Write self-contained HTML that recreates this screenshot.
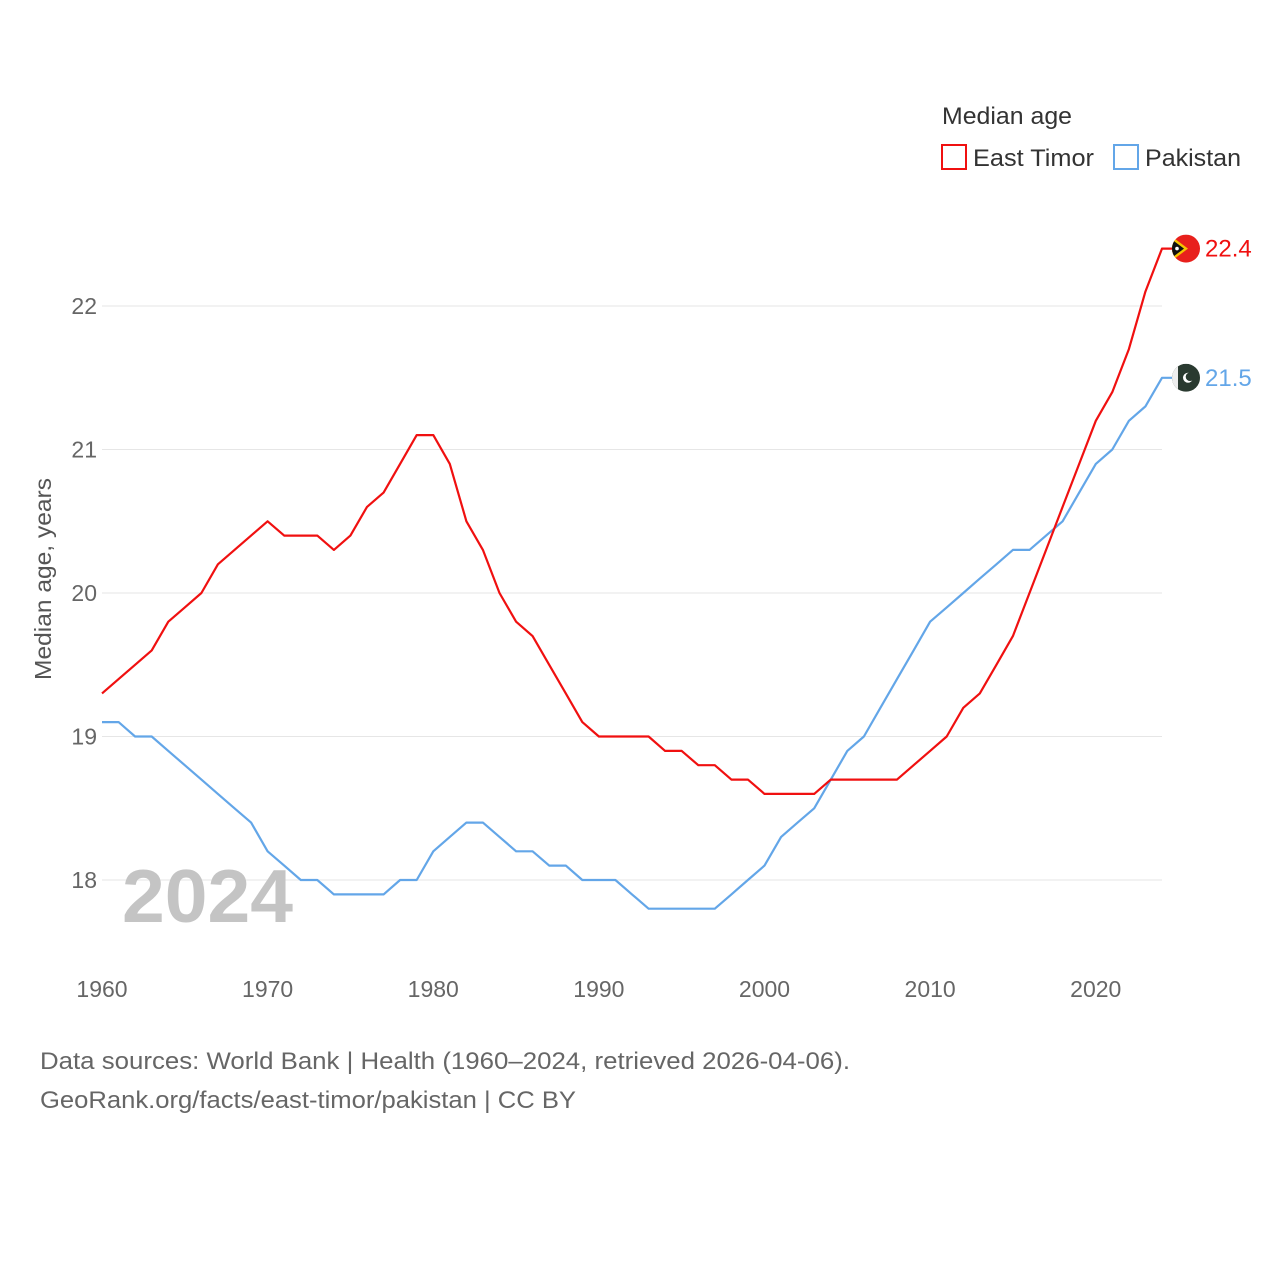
<!DOCTYPE html>
<html><head><meta charset="utf-8"><style>
body{margin:0;background:#fff;font-family:"Liberation Sans",sans-serif;}
</style></head><body>
<svg id="chart" width="1280" height="1280" xmlns="http://www.w3.org/2000/svg" font-family="Liberation Sans, sans-serif">
<defs>
<clipPath id="clipET"><circle id="cET" cx="1186" cy="0" r="14"/></clipPath>
<clipPath id="clipPK"><circle id="cPK" cx="1186" cy="0" r="14"/></clipPath>
</defs>
<g id="grid"></g>
<g id="yticks"></g>
<g id="xticks"></g>
<text transform="translate(51,579) rotate(-90)" text-anchor="middle" font-size="23" fill="#555" textLength="202" lengthAdjust="spacingAndGlyphs">Median age, years</text>
<text x="122" y="922" font-size="75" font-weight="bold" fill="#c4c4c4" textLength="171" lengthAdjust="spacingAndGlyphs">2024</text>
<g id="series"></g>
<g>
<text x="942" y="124" font-size="24" fill="#333" textLength="130" lengthAdjust="spacingAndGlyphs">Median age</text>
<rect x="942" y="145" width="24" height="24" fill="none" stroke="#f01010" stroke-width="2"/>
<text x="973" y="166" font-size="24" fill="#333" textLength="121" lengthAdjust="spacingAndGlyphs">East Timor</text>
<rect x="1114" y="145" width="24" height="24" fill="none" stroke="#63a6e8" stroke-width="2"/>
<text x="1145" y="166" font-size="24" fill="#333" textLength="96" lengthAdjust="spacingAndGlyphs">Pakistan</text>
</g>
<text x="40" y="1069" font-size="24" fill="#666" textLength="810" lengthAdjust="spacingAndGlyphs">Data sources: World Bank | Health (1960–2024, retrieved 2026-04-06).</text>
<text x="40" y="1108" font-size="24" fill="#666" textLength="536" lengthAdjust="spacingAndGlyphs">GeoRank.org/facts/east-timor/pakistan | CC BY</text>
</svg>
<script>
const years=[];for(let y=1960;y<=2024;y++)years.push(y);
const eastTimor=[19.3,19.4,19.5,19.6,19.8,19.9,20.0,20.2,20.3,20.4,20.5,20.4,20.4,20.4,20.3,20.4,20.6,20.7,20.9,21.1,21.1,20.9,20.5,20.3,20.0,19.8,19.7,19.5,19.3,19.1,19.0,19.0,19.0,19.0,18.9,18.9,18.8,18.8,18.7,18.7,18.6,18.6,18.6,18.6,18.7,18.7,18.7,18.7,18.7,18.8,18.9,19.0,19.2,19.3,19.5,19.7,20.0,20.3,20.6,20.9,21.2,21.4,21.7,22.1,22.4];
const pakistan=[19.1,19.1,19.0,19.0,18.9,18.8,18.7,18.6,18.5,18.4,18.2,18.1,18.0,18.0,17.9,17.9,17.9,17.9,18.0,18.0,18.2,18.3,18.4,18.4,18.3,18.2,18.2,18.1,18.1,18.0,18.0,18.0,17.9,17.8,17.8,17.8,17.8,17.8,17.9,18.0,18.1,18.3,18.4,18.5,18.7,18.9,19.0,19.2,19.4,19.6,19.8,19.9,20.0,20.1,20.2,20.3,20.3,20.4,20.5,20.7,20.9,21.0,21.2,21.3,21.5];
const yTicks=[18,19,20,21,22];
const xTicks=[1960,1970,1980,1990,2000,2010,2020];
const NS="http://www.w3.org/2000/svg";
const xs=y=>102+(y-1960)*(1060/64);
const ys=v=>880-(v-18)*143.5;
function mk(t,a,p){const e=document.createElementNS(NS,t);for(const k in a)e.setAttribute(k,a[k]);p.appendChild(e);return e;}
const grid=document.getElementById('grid'),yt=document.getElementById('yticks'),xt=document.getElementById('xticks'),ser=document.getElementById('series');
yTicks.forEach(v=>{
 const l=mk('line',{x1:102,x2:1162,y1:ys(v),y2:ys(v),stroke:'#e6e6e6','stroke-width':1},grid);
 
 
 const t=mk('text',{x:97,y:ys(v)+8,'text-anchor':'end','font-size':23,fill:'#666'},yt);t.textContent=v;
 
 
});
xTicks.forEach(v=>{
 const t=mk('text',{x:xs(v),y:997,'text-anchor':'middle','font-size':23,fill:'#666'},xt);t.textContent=v;
 
 
});
function line(data,color,name){
 const last=data[data.length-1],cx=1186,cy=ys(last);
 const d=data.map((v,i)=>(i?'L':'M')+xs(years[i]).toFixed(1)+','+ys(v).toFixed(1)).join('')+'L'+(cx-12)+','+cy.toFixed(1);
 const p=mk('path',{d:d,fill:'none',stroke:color,'stroke-width':2.2,'stroke-linejoin':'round'},ser);
 
 
 const g=mk('g',{},ser);
 
 
 if(name==='east-timor'){
  document.getElementById('cET').setAttribute('cy',cy);
  g.setAttribute('clip-path','url(#clipET)');
  mk('rect',{x:cx-14,y:cy-14,width:28,height:28,fill:'#e8201c'},g);
  mk('path',{d:`M${cx-14},${cy-12}L${cx+2},${cy}L${cx-14},${cy+12}Z`,fill:'#f5c400'},g);
  mk('path',{d:`M${cx-14},${cy-9}L${cx-2},${cy}L${cx-14},${cy+9}Z`,fill:'#111'},g);
  mk('circle',{cx:cx-9,cy:cy,r:1.8,fill:'#fff'},g);
 } else {
  document.getElementById('cPK').setAttribute('cy',cy);
  g.setAttribute('clip-path','url(#clipPK)');
  mk('rect',{x:cx-14,y:cy-14,width:28,height:28,fill:'#2a3a30'},g);
  mk('rect',{x:cx-14,y:cy-14,width:6,height:28,fill:'#eee'},g);
  mk('circle',{cx:cx+2,cy:cy,r:5,fill:'#fff'},g);
  mk('circle',{cx:cx+4,cy:cy-1,r:4.3,fill:'#2a3a30'},g);
 }
 const t=mk('text',{x:1205,y:cy+8,'font-size':24,fill:color},ser);t.textContent=last.toFixed(1);
 
 
}
line(pakistan,'#63a6e8','pakistan');
line(eastTimor,'#f01010','east-timor');
</script>
</body></html>
